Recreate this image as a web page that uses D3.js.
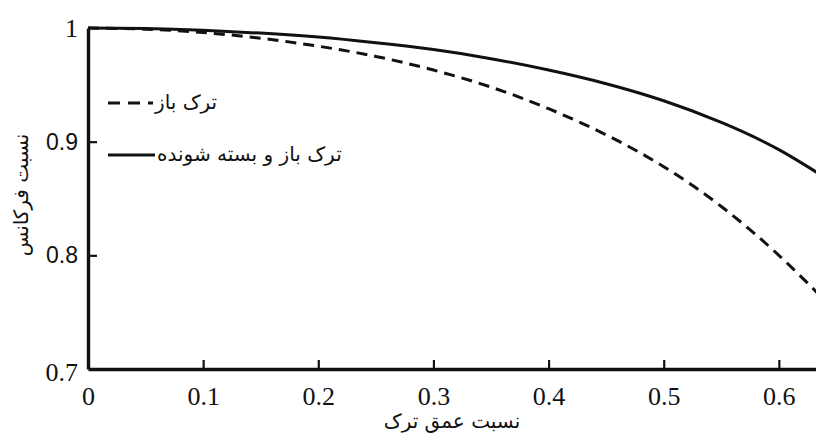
<!DOCTYPE html>
<html>
<head>
<meta charset="utf-8">
<script src="https://cdn.jsdelivr.net/npm/d3@7"></script>
<style>
  body { margin: 0; background: #fff; }
  svg { display: block; }
</style>
</head>
<body>
<svg id="chart" width="816" height="433"></svg>
<script>
// crack depth ratio (x) and frequency ratio (y)
var depthRatio = [0, 0.05, 0.1, 0.15, 0.2, 0.25, 0.3, 0.35, 0.4, 0.45, 0.5, 0.55, 0.6, 0.65];
var openCrack = [1, 0.999, 0.996, 0.991, 0.984, 0.975, 0.963, 0.948, 0.929, 0.906, 0.878, 0.843, 0.800, 0.750];
var breathingCrack = [1, 0.9995, 0.998, 0.9955, 0.992, 0.987, 0.981, 0.973, 0.963, 0.951, 0.936, 0.917, 0.893, 0.862];
var xTicks = [0, 0.1, 0.2, 0.3, 0.4, 0.5, 0.6];
var yTicks = [0.7, 0.8, 0.9, 1];
var legendLabels = ['ترک باز', 'ترک باز و بسته شونده'];
var xTitle = 'نسبت عمق ترک';
var yTitle = 'نسبت فرکانس';

var svg = d3.select('#chart');

var x = d3.scaleLinear().domain([0, 0.7]).range([88, 894]);
var y = d3.scaleLinear().domain([0.7, 1]).range([369, 28]);

// curves
var line = function(vals) {
    return d3.line()
        .x(function(d, i) { return x(depthRatio[i]); })
        .y(function(d) { return y(d); })
        .curve(d3.curveNatural)(vals);
};

svg.append('path')
    .attr('d', line(breathingCrack))
    .attr('fill', 'none')
    .attr('stroke', '#111')
    .attr('stroke-width', 3);

svg.append('path')
    .attr('d', line(openCrack))
    .attr('fill', 'none')
    .attr('stroke', '#111')
    .attr('stroke-width', 3)
    .attr('stroke-dasharray', '11,7');

// axes
var xAxis = d3.axisBottom(x)
    .tickValues(xTicks)
    .tickSize(0)
    .tickPadding(18)
    .tickFormat(function(d) { return d === 0 ? '0' : d3.format('.1f')(d); });

var gx = svg.append('g')
    .attr('transform', 'translate(0,' + y(0.7) + ')')
    .call(xAxis);
gx.select('.domain').attr('stroke', '#111').attr('stroke-width', 3.4);
gx.selectAll('.tick text')
    .attr('font-family', '"Liberation Serif", "DejaVu Serif", serif')
    .attr('font-size', 26)
    .attr('fill', '#111');

// inward tick marks
gx.selectAll('.tick').filter(function(d) { return d !== 0; })
    .append('line')
    .attr('y1', 0).attr('y2', -9)
    .attr('stroke', '#111').attr('stroke-width', 2.2);

var yAxis = d3.axisLeft(y)
    .tickValues(yTicks)
    .tickSize(0)
    .tickPadding(10)
    .tickFormat(function(d) { return d === 1 ? '1' : d3.format('.1f')(d); });

var gy = svg.append('g')
    .attr('transform', 'translate(' + x(0) + ',0)')
    .call(yAxis);
gy.select('.domain').attr('stroke', '#111').attr('stroke-width', 3.4);
gy.selectAll('.tick').filter(function(d) { return d !== 1 && d !== 0.7; })
    .append('line')
    .attr('x1', 0).attr('x2', 9)
    .attr('stroke', '#111').attr('stroke-width', 2.2);
gy.selectAll('.tick text')
    .attr('font-family', function(d) {
        return (d === 1 || d === 0.7) ? '"Liberation Serif", serif' : '"Liberation Sans", sans-serif';
    })
    .attr('font-size', function(d) { return (d === 1 || d === 0.7) ? 26 : 23; })
    .attr('dy', function(d) { return d === 0.7 ? '0.45em' : '0.32em'; })
    .attr('fill', '#111');

// axis titles
svg.append('text')
    .attr('x', 452)
    .attr('y', 428)
    .attr('text-anchor', 'middle')
    .attr('font-family', '"DejaVu Sans", sans-serif')
    .attr('font-size', 20)
    .attr('fill', '#111')
    .text(xTitle);

svg.append('text')
    .attr('transform', 'translate(28,195) rotate(-90)')
    .attr('text-anchor', 'middle')
    .attr('font-family', '"DejaVu Sans", sans-serif')
    .attr('font-size', 20)
    .attr('fill', '#111')
    .text(yTitle);

// legend
var legend = [
    { label: legendLabels[0], dash: '12,8', y: 103, x2: 153 },
    { label: legendLabels[1], dash: null, y: 155, x2: 155 }
];

legend.forEach(function(l) {
    svg.append('line')
        .attr('x1', 108).attr('x2', l.x2)
        .attr('y1', l.y).attr('y2', l.y)
        .attr('stroke', '#111')
        .attr('stroke-width', 2.8)
        .attr('stroke-dasharray', l.dash);
    svg.append('text')
        .attr('x', l.x2 + 2)
        .attr('y', l.y)
        .attr('dy', '0.3em')
        .attr('font-family', '"DejaVu Sans", sans-serif')
        .attr('font-size', 20)
        .attr('fill', '#111')
        .text(l.label);
});
</script>
</body>
</html>
